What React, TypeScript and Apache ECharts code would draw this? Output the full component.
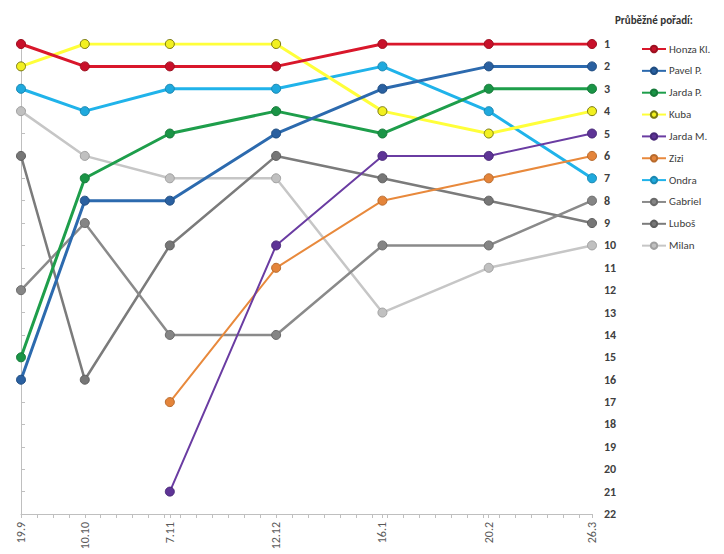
import React, { useEffect, useRef } from "react";
import * as echarts from "echarts";

const dates = ["2018-09-19", "2018-10-10", "2018-11-07", "2018-12-12", "2019-01-16", "2019-02-20", "2019-03-26"];
const names = ["Honza Kl.", "Pavel P.", "Jarda P.", "Kuba", "Jarda M.", "Zizi", "Ondra", "Gabriel", "Luboš", "Milan"];
const honza = [1, 2, 2, 2, 1, 1, 1];
const pavel = [16, 8, 8, 5, 3, 2, 2];
const jardaP = [15, 7, 5, 4, 5, 3, 3];
const kuba = [2, 1, 1, 1, 4, 5, 4];
const jardaM = [null, null, 21, 10, 6, 6, 5];
const zizi = [null, null, 17, 11, 8, 7, 6];
const ondra = [3, 4, 3, 3, 2, 4, 7];
const gabriel = [12, 9, 14, 14, 10, 10, 8];
const lubos = [6, 16, 10, 6, 7, 8, 9];
const milan = [4, 6, 7, 7, 13, 11, 10];
const yTicks = [1, 22];

const values = [honza, pavel, jardaP, kuba, jardaM, zizi, ondra, gabriel, lubos, milan];
const lineColors = ["#d9172b", "#2c6aae", "#1e9e4b", "#ffff3a", "#6a3ca2", "#e8893c", "#20b3ea", "#8a8a8a", "#7b7b7b", "#c6c6c6"];
const fillColors = ["#c8102a", "#2a60a0", "#1a9446", "#f2f020", "#5e3496", "#e4843a", "#1fa9dd", "#858585", "#767676", "#c0c0c0"];
const borderColors = ["#9c1020", "#1f4d82", "#167a3a", "#7a7a10", "#482878", "#b86a2c", "#1a88b2", "#6a6a6a", "#5e5e5e", "#a0a0a0"];
const widths = [3, 3, 3, 3, 2, 2, 3, 2.5, 2.5, 2.5];

const FONT = 'Carlito, "Liberation Sans Narrow", "Liberation Sans", sans-serif';
const DAY = 86400000;

export default function App() {
  const ref = useRef<HTMLDivElement>(null);
  useEffect(() => {
    if (!ref.current) return;
    const chart = echarts.init(ref.current, undefined, { renderer: "svg" });
    const t0 = Date.UTC(+dates[0].slice(0, 4), +dates[0].slice(5, 7) - 1, +dates[0].slice(8, 10));
    const days = dates.map((d) => Math.round((Date.UTC(+d.slice(0, 4), +d.slice(5, 7) - 1, +d.slice(8, 10)) - t0) / DAY));
    const labelOf: Record<number, string> = {};
    days.forEach((dd, j) => {
      const p = dates[j].split("-");
      labelOf[dd] = +p[2] + "." + +p[1];
    });
    const end = days[days.length - 1];
    const minor: number[] = [];
    for (let t = 0; t <= end; t += 5.25) minor.push(t);
    const series = names.map((n, i) => ({
      name: n,
      type: "line",
      data: values[i]
        .map((v, j) => (v == null ? null : [days[j], v]))
        .filter((p) => p !== null),
      symbol: "circle",
      symbolSize: 9,
      lineStyle: { color: lineColors[i], width: widths[i] },
      itemStyle: { color: fillColors[i], borderColor: borderColors[i], borderWidth: 1 },
      z: 10 - i,
      emphasis: { disabled: true },
    }));
    chart.setOption({
      animation: false,
      title: {
        text: "Průběžné pořadí:",
        left: 610,
        top: 10,
        textStyle: { fontSize: 11, fontWeight: "bold", color: "#333", fontFamily: FONT },
      },
      legend: {
        orient: "vertical",
        left: 636,
        top: 37,
        itemWidth: 24,
        itemHeight: 8,
        itemGap: 7.85,
        data: names,
        textStyle: { fontSize: 11, lineHeight: 14, height: 14, color: "#404040", fontFamily: FONT, padding: [0, 0, 0, -2] },
      },
      grid: { left: 21, right: 132, top: 44, bottom: 40, containLabel: false },
      xAxis: {
        type: "value",
        min: 0,
        max: end,
        axisLine: { show: true, lineStyle: { color: "#bfbfbf", width: 1 } },
        axisTick: { show: true, customValues: minor.concat(days), length: 4, lineStyle: { color: "#bfbfbf" } },
        splitLine: { show: false },
        axisLabel: {
          customValues: days,
          rotate: 90,
          formatter: (v: number) => labelOf[Math.round(v)] || "",
          fontSize: 12,
          color: "#595959",
          fontFamily: FONT,
          margin: 8,
          hideOverlap: false,
        },
      },
      yAxis: {
        type: "value",
        position: "right",
        inverse: true,
        min: yTicks[0],
        max: yTicks[1],
        interval: 1,
        axisLine: { show: true, lineStyle: { color: "#bfbfbf", width: 1 } },
        axisTick: { show: true, length: 4, lineStyle: { color: "#bfbfbf" } },
        splitLine: { show: false },
        axisLabel: { fontSize: 12, fontWeight: "bold", color: "#404040", fontFamily: FONT, margin: 12 },
      },
      series,
    });
    return () => chart.dispose();
  }, []);
  return <div ref={ref} style={{ position: "fixed", left: 0, top: 0, width: 724, height: 554, background: "#fff" }} />;
}
